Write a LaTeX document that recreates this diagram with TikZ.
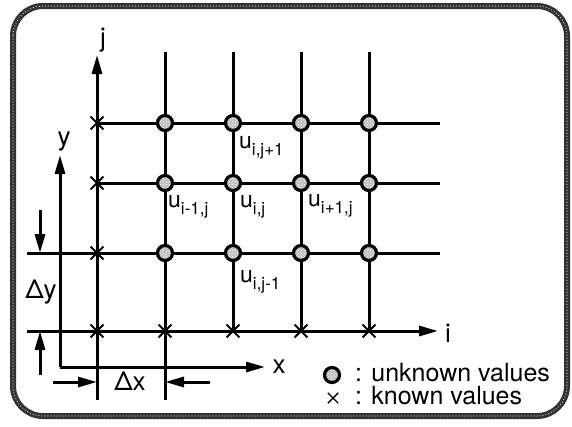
\documentclass[tikz,border=0pt]{standalone}
\usepackage{fontspec}
\setmainfont{TeX Gyre Heros}
\usepackage{tikz}
\usetikzlibrary{arrows.meta,patterns,shapes.misc}

% u with a lowered index, as in the grid labels
\newcommand{\uval}[1]{u\raisebox{-0.32em}{\fontsize{17}{17}\selectfont #1}}

\begin{document}
\begin{tikzpicture}[x=1pt,y=-1pt,
  gridline/.style={line width=3pt},
  axis/.style={line width=3pt,-{Triangle[length=19pt,width=10pt]}},
  unknown/.style={circle,draw,line width=3.2pt,minimum size=15pt,inner sep=0pt,
    preaction={fill=black!25},pattern=crosshatch dots,pattern color=white},
  known/.style={cross out,draw,line width=1.8pt,minimum size=11pt,inner sep=0pt},
  lbl/.style={font=\fontsize{26}{26}\selectfont,inner sep=0pt,anchor=base},
  ulbl/.style={font=\fontsize{23}{23}\selectfont,inner sep=0pt,anchor=base west}]
  \useasboundingbox (0,0) rectangle (572,426);
  % beaded frame round the figure
  \draw[line width=6pt,black!80,rounded corners=30pt] (13,6) rectangle (567,416);
  \draw[line width=1.2pt,white!85!black,dash pattern=on 0pt off 3pt,line cap=round,
    rounded corners=30pt] (13,6) rectangle (567,416);

  % grid points: columns 0..4, rows 0 (i axis) .. 3 (top)
  \foreach \n/\x in {0/97,1/165,2/233,3/301,4/369}{
    \coordinate (top-\n) at (\x,52);
    \foreach \m/\y in {0/331,1/253,2/183,3/123}
      \coordinate (p-\n-\m) at (\x,\y);
  }
  \coordinate (bot-0) at (97,400);
  \coordinate (bot-1) at (165,400);
  \coordinate (jtip) at (97,55);
  \foreach \m/\y in {1/253,2/183,3/123}
    \coordinate (end-\m) at (440,\y);
  \coordinate (start-1) at (27,253);
  \coordinate (start-0) at (27,331);
  \coordinate (itip) at (438,331);

  % grid lines
  \foreach \n in {1,...,4}
    \draw[gridline] (top-\n) -- (p-\n-0);
  \draw[gridline] (p-1-0) -- (bot-1);
  \draw[gridline] (p-0-3) -- (end-3);
  \draw[gridline] (p-0-2) -- (end-2);
  \draw[gridline] (start-1) -- (end-1);
  \draw[axis] (bot-0) -- (jtip);
  \draw[axis] (start-0) -- (itip);
  \node[lbl] (jlab) at (103,46) {j};
  \node[lbl] (ilab) at (448,342) {i};

  % x-y axes
  \coordinate (orig) at (60,367);
  \coordinate (ytip) at (60,155);
  \coordinate (xtip) at (265,367);
  \draw[axis] (orig) -- (ytip);
  \draw[axis] (orig) -- (xtip);
  \node[lbl] (ylab) at (64,145) {y};
  \node[lbl] (xlab) at (279,373) {x};

  % spacing marks
  \coordinate (dy-a) at (40,210);
  \coordinate (dy-b) at (40,253);
  \coordinate (dy-c) at (40,375);
  \coordinate (dy-d) at (40,331);
  \draw[axis] (dy-a) -- (dy-b);
  \draw[axis] (dy-c) -- (dy-d);
  \node[lbl] (dylab) at (41,298) {Δy};
  \coordinate (dx-a) at (53,382);
  \coordinate (dx-b) at (97,382);
  \coordinate (dx-c) at (210,382);
  \coordinate (dx-d) at (165,382);
  \draw[axis] (dx-a) -- (dx-b);
  \draw[axis] (dx-c) -- (dx-d);
  \node[lbl] (dxlab) at (130,390) {Δx};

  % known and unknown values
  \foreach \n in {0,...,4}
    \node[known] (k-\n) at (p-\n-0) {};
  \foreach \m in {1,2,3}{
    \node[known] (b-\m) at (p-0-\m) {};
    \foreach \n in {1,...,4}
      \node[unknown] (u-\n-\m) at (p-\n-\m) {};
  }

  \node[ulbl] (ltop) at (239,148) {\uval{i,j+1}};
  \node[ulbl] (lleft) at (168,207) {\uval{i-1,j}};
  \node[ulbl] (lmid) at (240,207) {\uval{i,j}};
  \node[ulbl] (lright) at (308,206) {\uval{i+1,j}};
  \node[ulbl] (lbot) at (240,282) {\uval{i,j-1}};

  % legend
  \node[unknown] (leg-u) at (332,375) {};
  \node[known,minimum size=9pt,line width=1.4pt] (leg-k) at (333,398) {};
  \node[lbl,anchor=base west,font=\fontsize{25}{25}\selectfont] (leg-ut) at (355,381) {: unknown values};
  \node[lbl,anchor=base west,font=\fontsize{25}{25}\selectfont] (leg-kt) at (355,404) {: known values};
\end{tikzpicture}
\end{document}
